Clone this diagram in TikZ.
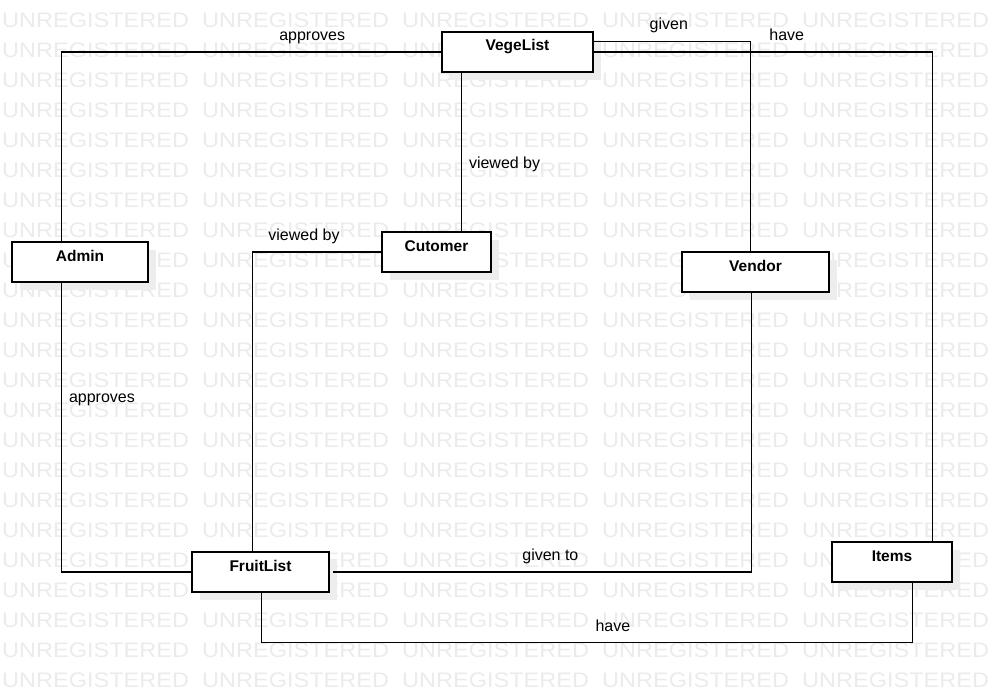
\documentclass[tikz,border=0pt]{standalone}
\usepackage{fontspec}
\setmainfont{Liberation Sans}
\newfontfamily\wmfont[FakeStretch=1.12]{Liberation Sans}
\usetikzlibrary{positioning, shadows}

\begin{document}
\begin{tikzpicture}[x=1pt, y=-1pt, % one unit = one pixel of the sketch
entity/.style = {draw, line width=1.2pt, fill=white,
                 minimum height=40pt, inner xsep=2pt, inner ysep=0pt,
                 text height=12pt, text depth=14pt,
                 font=\fontsize{15.5}{18}\selectfont\bfseries,
                 drop shadow={shadow xshift=8pt, shadow yshift=-8pt,
                              fill=black!7, opacity=1}},
  link/.style = {line width=1.2pt},
   rel/.style = {font=\fontsize{16}{19}\selectfont, inner sep=1pt,
                 text height=12pt, text depth=4pt},
 wmark/.style = {anchor=west, inner sep=0pt, text=black!8,
                 font=\wmfont\fontsize{21}{24}\selectfont}
                    ]
	\useasboundingbox (0,0) rectangle (1002,693);

	% watermark in the background
	\begin{scope}
	\clip (0,0) rectangle (1002,693);
	\foreach \r in {0,...,22}
	  \foreach \c in {0,...,5}
	    \node[wmark] (wm-\r-\c) at (200*\c+2, 20+30*\r) {UNREGISTERED};
	\end{scope}

	% entities
	\node[entity, minimum width=136pt] (Admin)     at (80,262)    {Admin};
	\node[entity, minimum width=151pt] (VegeList)  at (517.5,52)  {VegeList};
	\node[entity, minimum width=109pt] (Cutomer)   at (436.5,252) {Cutomer};
	\node[entity, minimum width=147pt] (Vendor)    at (755.5,272) {Vendor};
	\node[entity, minimum width=137pt] (FruitList) at (260.5,572) {FruitList};
	\node[entity, minimum width=120pt] (Items)     at (892,562)   {Items};

	% relations
	\draw[link] ([xshift=50pt]Admin.north west) |- (VegeList.west)
	    node[rel, pos=.83, above=6pt] {approves};
	\draw[link] ([xshift=50pt]Admin.south west) |- (FruitList.west)
	    node[rel, pos=.2, right=6pt] {approves};
	\draw[link] ([xshift=20pt]VegeList.south west) coordinate (vc) -- (vc |- Cutomer.north)
	    node[rel, pos=.58, right=6pt] {viewed by};
	\draw[link] (Cutomer.west) -| ([xshift=61pt]FruitList.north west)
	    node[rel, pos=.3, above=6pt] {viewed by};
	\draw[link] ([yshift=-10pt]VegeList.north east) -| ([xshift=69pt]Vendor.north west)
	    node[rel, pos=.24, above=6pt] {given};
	\draw[link] (VegeList.east) -| ([xshift=101pt]Items.north west)
	    node[rel, pos=.285, above=6pt] {have};
	\draw[link] ([xshift=70pt]Vendor.south west) |- ([xshift=3pt]FruitList.east)
	    node[rel, pos=.74, above=6pt] {given to};
	\draw[link] ([xshift=70pt]FruitList.south west) -- ++(0,50)
	    -| ([xshift=81pt]Items.south west)
	    node[rel, pos=.27, above=6pt] {have};
\end{tikzpicture}
\end{document}
